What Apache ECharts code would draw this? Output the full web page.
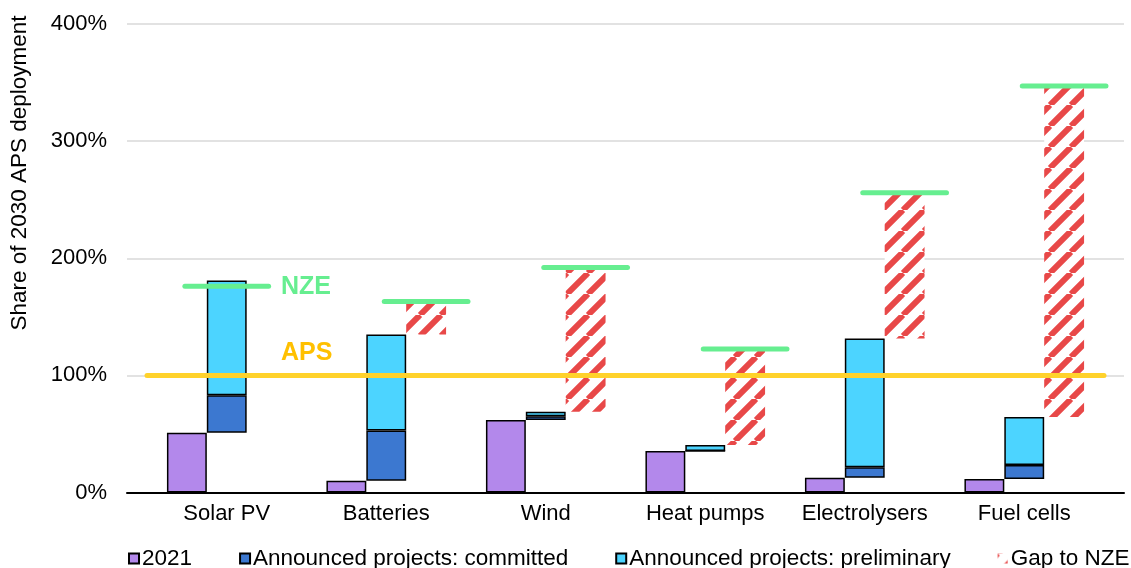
<!DOCTYPE html>
<html><head><meta charset="utf-8">
<script src="https://cdn.jsdelivr.net/npm/echarts@6/dist/echarts.min.js"></script>
<style>html,body{margin:0;padding:0;background:#fff}#c{width:1131px;height:568px}</style>
</head><body><div id="c"></div>
<script>
// ---- data (percent of 2030 APS deployment) ----
const categories = ['Solar PV', 'Batteries', 'Wind', 'Heat pumps', 'Electrolysers', 'Fuel cells'];
const share2021 = [51, 10, 62, 35.5, 12.5, 11.5];
const committed = [32, 43, 3, 0, 9, 12];
const preliminary = [98, 82, 4, 5, 110, 41];
const nze = [176, 163, 192, 122.5, 256, 347];
const aps = [100];
const yTicks = [0, 100, 200, 300, 400];
const legendNames = ['2021', 'Announced projects: committed', 'Announced projects: preliminary', 'Gap to NZE'];

// derived
const announced = share2021.map((v, i) => v + committed[i] + preliminary[i]);
const gap = nze.map((v, i) => Math.max(0, v - announced[i]));

const FONT = "'Liberation Sans', Arial, sans-serif";

// hatch pattern
function hatch() {
  const s = 21;
  const c = document.createElement('canvas');
  c.width = s; c.height = s;
  const g = c.getContext('2d');
  g.fillStyle = '#ffffff';
  g.fillRect(0, 0, s, s);
  g.strokeStyle = '#E84848';
  g.lineWidth = 6;
  for (let k = -1; k <= 1; k++) {
    g.beginPath();
    g.moveTo(k * s, s);
    g.lineTo(k * s + s, 0);
    g.stroke();
  }
  return { image: c, repeat: 'repeat' };
}

const chart = echarts.init(document.getElementById('c'), null, { renderer: 'canvas' });
const border = { borderColor: '#000', borderWidth: 1.5 };

chart.setOption({
  animation: false,
  backgroundColor: '#fff',
  textStyle: { fontFamily: FONT },
  grid: [
    { left: 127, right: 7, top: 24, bottom: 75.5 },
    { left: 147, right: 27, top: 24, bottom: 75.5 }
  ],
  xAxis: [
    { gridIndex: 0, type: 'value', min: 0, max: 1,
      axisLine: { show: true, onZero: false, lineStyle: { color: '#000', width: 2 } },
      axisTick: { show: false }, axisLabel: { show: false }, splitLine: { show: false } },
    { gridIndex: 1, type: 'category', data: categories,
      axisLine: { show: false }, axisTick: { show: false },
      axisLabel: { interval: 0, fontSize: 22, color: '#000', margin: 10, fontFamily: FONT } }
  ],
  yAxis: [
    { gridIndex: 0, type: 'value', min: yTicks[0], max: yTicks[yTicks.length - 1], interval: 100,
      axisLine: { show: false }, axisTick: { show: false },
      axisLabel: { fontSize: 22, color: '#000', margin: 20, formatter: '{value}%', fontFamily: FONT },
      splitLine: { lineStyle: { color: '#D9D9D9', width: 1.5 } } },
    { gridIndex: 1, type: 'value', min: yTicks[0], max: yTicks[yTicks.length - 1], interval: 100,
      show: false, splitLine: { show: false } }
  ],
  legend: {
    data: legendNames, padding: 0, orient: 'horizontal',
    left: 128, top: 547, width: 1200, itemWidth: 10, itemHeight: 10, itemGap: 47, icon: 'rect',
    textStyle: { fontSize: 22.5, color: '#000', fontFamily: FONT, padding: [0, 0, 0, -2] }
  },
  graphic: [
    { type: 'text', x: 20, y: 173, rotation: Math.PI / 2,
      style: { text: 'Share of 2030 APS deployment', font: "22.5px 'Liberation Sans', Arial", fill: '#000',
        textAlign: 'center', textVerticalAlign: 'middle' } },
    { type: 'text', x: 281, y: 287, z: 100,
      style: { text: 'NZE', font: "bold 25px 'Liberation Sans', Arial", fill: '#66EE90',
        textAlign: 'left', textVerticalAlign: 'middle' } },
    { type: 'text', x: 281, y: 353, z: 100,
      style: { text: 'APS', font: "bold 25px 'Liberation Sans', Arial", fill: '#FFC000',
        textAlign: 'left', textVerticalAlign: 'middle' } }
  ],
  series: [
    { name: '2021', type: 'bar', xAxisIndex: 1, yAxisIndex: 1, stack: 'a',
      barCategoryGap: '25%', barGap: '0%', data: share2021,
      itemStyle: Object.assign({ color: '#B388EB' }, border) },
    { name: 'base-b', type: 'bar', xAxisIndex: 1, yAxisIndex: 1, stack: 'b', silent: true,
      data: share2021, itemStyle: { color: 'transparent' } },
    { name: legendNames[1], type: 'bar', xAxisIndex: 1, yAxisIndex: 1, stack: 'b',
      data: committed, itemStyle: Object.assign({ color: '#3C78D0' }, border) },
    { name: legendNames[2], type: 'bar', xAxisIndex: 1, yAxisIndex: 1, stack: 'b',
      data: preliminary, itemStyle: Object.assign({ color: '#4CD4FF' }, border) },
    { name: 'base-c', type: 'bar', xAxisIndex: 1, yAxisIndex: 1, stack: 'c', silent: true,
      data: announced, itemStyle: { color: 'transparent' } },
    { name: legendNames[3], type: 'bar', xAxisIndex: 1, yAxisIndex: 1, stack: 'c',
      data: gap, itemStyle: { color: hatch() } },
    { name: 'APS', type: 'custom', xAxisIndex: 1, yAxisIndex: 1, z: 10, silent: true,
      data: aps.map(v => [0, v]), encode: { x: 0, y: 1 },
      renderItem: function (params, api) {
        const cs = params.coordSys;
        const y = api.coord([0, api.value(1)])[1];
        return { type: 'line', shape: { x1: cs.x, y1: y, x2: cs.x + cs.width, y2: y },
          style: { stroke: '#FFD22B', lineWidth: 5, lineCap: 'round' } };
      } },
    { name: 'NZE', type: 'custom', xAxisIndex: 1, yAxisIndex: 1, z: 11, silent: true,
      data: nze.map((v, i) => [i, v]), encode: { x: 0, y: 1 },
      renderItem: function (params, api) {
        const i = api.value(0);
        const p = api.coord([i, api.value(1)]);
        const band = api.size([1, 0])[0];
        const barW = band * 0.25;
        const cx = p[0] + (gap[i] > 0 ? barW : 0);
        const half = barW * 1.05;
        return { type: 'line', shape: { x1: cx - half, y1: p[1], x2: cx + half, y2: p[1] },
          style: { stroke: '#66EE90', lineWidth: 5, lineCap: 'round' } };
      } }
  ]
});
</script>
</body></html>
